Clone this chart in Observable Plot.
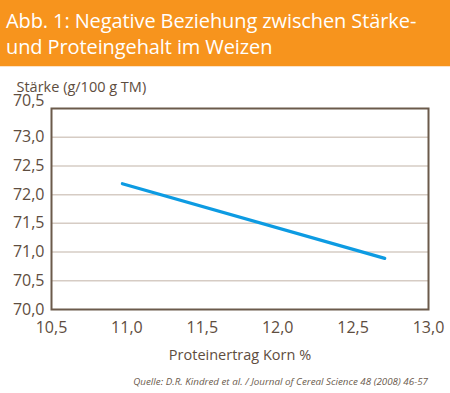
<!DOCTYPE html>
<html>
<head>
<meta charset="utf-8">
<script src="https://cdn.jsdelivr.net/npm/d3@7"></script>
<script src="https://cdn.jsdelivr.net/npm/@observablehq/plot@0.6"></script>
<style>
  html, body { margin: 0; padding: 0; background: #fff; }
  #wrap { position: relative; width: 450px; height: 393px; overflow: hidden; font-family: "Open Sans", sans-serif; }
  #head { position: absolute; left: 0; top: 0; width: 450px; height: 67px; background: #f7941d; border-bottom: 1px solid #fbe3c8; box-sizing: border-box; }
  #head div { position: absolute; left: 6px; top: 8px; color: #fff; font-size: 20px; line-height: 26px; letter-spacing: -0.1px; }
  #chart { position: absolute; left: 0; top: 68px; }
  #cap { position: absolute; right: 22px; top: 375px; font-size: 9.8px; font-style: italic; color: #6b5b4e; white-space: nowrap; }
</style>
</head>
<body>
<div id="wrap">
  <div id="head"><div>Abb. 1: Negative Beziehung zwischen Stärke-<br>und Proteingehalt im Weizen</div></div>
  <div id="chart"></div>
  <div id="cap">Quelle: D.R. Kindred et al. / Journal of Cereal Science 48 (2008) 46-57</div>
</div>
<script>
const protein = [10.97, 12.71];
const staerke = [72.19, 70.89];
const xTicks = [10.5, 11.0, 11.5, 12.0, 12.5, 13.0];
const xTickLabels = ["10,5", "11,0", "11,5", "12,0", "12,5", "13,0"];
const yTicks = [70.0, 70.5, 71.0, 71.5, 72.0, 72.5, 73.0];
const yTickLabels = ["70,0", "70,5", "71,0", "71,5", "72,0", "72,5", "73,0"];
const yTopTick = [73.5];
const yTopTickLabel = ["70,5"];
const gridValues = [70.5, 71.0, 71.5, 72.0, 72.5, 73.0];
const yTitle = "Stärke (g/100 g TM)";
const xTitle = "Proteinertrag Korn %";

const data = protein.map((p, i) => ({x: p, y: staerke[i]}));
const textColor = "#5e4d40";

const plot = Plot.plot({
  width: 450,
  height: 300,
  marginLeft: 51,
  marginRight: 22,
  marginTop: 40,
  marginBottom: 59,
  style: {fontFamily: "Open Sans, sans-serif", color: textColor, background: "transparent"},
  x: {domain: [10.5, 13.0]},
  y: {domain: [70.0, 73.5]},
  marks: [
    Plot.ruleY(gridValues, {stroke: "#d6ccc4", strokeWidth: 1.5}),
    Plot.axisX(xTicks, {tickSize: 0, tickPadding: 12, fontSize: 16, fill: textColor, tickFormat: (d, i) => xTickLabels[i], label: null}),
    Plot.axisY(yTicks, {tickSize: 0, tickPadding: 7, fontSize: 16, fill: textColor, tickFormat: (d, i) => yTickLabels[i], label: null}),
    Plot.axisY(yTopTick, {tickSize: 0, tickPadding: 7, dy: -8, fontSize: 16, fill: textColor, tickFormat: (d, i) => yTopTickLabel[i], label: null}),
    Plot.text([xTitle], {frameAnchor: "bottom", lineAnchor: "middle", dy: 46, fontSize: 14.5, fill: textColor}),
    Plot.text([yTitle], {frameAnchor: "top-left", lineAnchor: "middle", dx: -35, dy: -21, textAnchor: "start", fontSize: 14.5, fill: textColor}),
    Plot.line(data, {x: "x", y: "y", stroke: "#0d9be2", strokeWidth: 3.2, strokeLinecap: "round"}),
    Plot.frame({stroke: "#6b5a4b", strokeWidth: 2})
  ]
});
document.getElementById("chart").appendChild(plot);
</script>
</body>
</html>
